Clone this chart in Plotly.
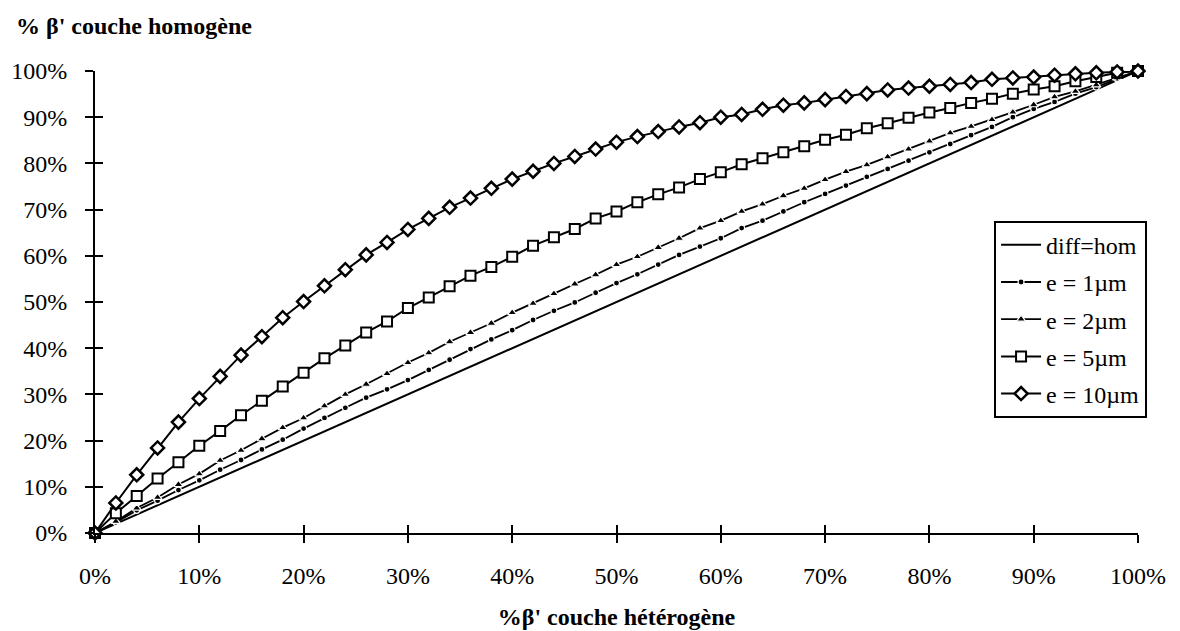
import plotly.graph_objects as go

FONT = "Liberation Serif, Times New Roman, serif"
BLACK = "#000000"

# x (% beta' couche hétérogène), pas de 2 %
x_pts = [0, 2, 4, 6, 8, 10, 12, 14, 16, 18, 20, 22, 24, 26, 28, 30, 32, 34, 36, 38,
         40, 42, 44, 46, 48, 50, 52, 54, 56, 58, 60, 62, 64, 66, 68, 70, 72, 74, 76, 78,
         80, 82, 84, 86, 88, 90, 92, 94, 96, 98, 100]

# diff=hom : droite y = x
x_hom = [0, 10, 20, 30, 40, 50, 60, 70, 80, 90, 100]
y_hom = [0, 10, 20, 30, 40, 50, 60, 70, 80, 90, 100]

y_e1 = [0, 2.3, 4.9, 7.0, 9.3, 11.4, 13.7, 15.8, 18.1, 20.2, 22.6, 24.9, 27.1, 29.3, 31.1,
        33.1, 35.3, 37.5, 39.8, 41.9, 43.9, 46.1, 48.1, 49.9, 52.0, 54.1, 56.0, 58.1, 60.2,
        62.0, 63.8, 66.0, 67.6, 69.6, 71.6, 73.4, 75.2, 77.1, 78.8, 80.6, 82.4, 84.2, 86.1,
        87.9, 90.0, 91.8, 93.3, 95.1, 96.5, 98.3, 100]

y_e2 = [0, 2.5, 5.4, 7.7, 10.5, 12.8, 15.7, 17.9, 20.4, 22.8, 24.9, 27.5, 30.0, 32.2, 34.5,
        36.9, 39.0, 41.4, 43.4, 45.4, 47.7, 49.7, 51.8, 53.9, 55.9, 58.1, 59.8, 61.8, 63.8,
        66.0, 67.6, 69.6, 71.2, 73.0, 74.6, 76.5, 78.2, 79.7, 81.4, 83.1, 84.8, 86.6, 88.0,
        89.5, 91.1, 92.7, 94.4, 95.6, 97.0, 98.5, 100]

y_e5 = [0, 4.3, 8.0, 11.8, 15.3, 18.9, 22.1, 25.5, 28.6, 31.7, 34.7, 37.8, 40.6, 43.4, 45.8,
        48.7, 51.0, 53.4, 55.7, 57.6, 59.8, 62.2, 64.0, 65.8, 68.1, 69.6, 71.6, 73.3, 74.8,
        76.6, 78.1, 79.8, 81.1, 82.4, 83.7, 85.1, 86.2, 87.6, 88.7, 89.9, 91.0, 92.0, 93.1,
        94.0, 95.1, 96.0, 96.7, 97.8, 98.7, 99.6, 100]

y_e10 = [0, 6.5, 12.6, 18.4, 24.0, 29.1, 33.9, 38.5, 42.5, 46.6, 50.1, 53.5, 57.0, 60.2, 62.9,
         65.7, 68.1, 70.5, 72.5, 74.6, 76.6, 78.3, 80.0, 81.5, 83.1, 84.6, 85.8, 86.9, 87.9,
         88.8, 90.0, 90.6, 91.7, 92.6, 93.1, 93.8, 94.5, 95.1, 95.9, 96.3, 96.7, 97.1, 97.5,
         98.2, 98.5, 98.7, 99.1, 99.4, 99.6, 99.8, 100]

tick_vals = [0, 10, 20, 30, 40, 50, 60, 70, 80, 90, 100]
tick_text = ["0%", "10%", "20%", "30%", "40%", "50%", "60%", "70%", "80%", "90%", "100%"]

fig = go.Figure()

fig.add_trace(go.Scatter(x=x_hom, y=y_hom, name="diff=hom", mode="lines",
                         line=dict(color=BLACK, width=2), legendgroup="a"))
fig.add_trace(go.Scatter(x=x_pts, y=y_e1, name="e = 1\u00b5m", mode="lines+markers",
                         line=dict(color=BLACK, width=1.8),
                         marker=dict(symbol="circle", size=6, color=BLACK,
                                     line=dict(color="white", width=1.2)),
                         legendgroup="b"))
fig.add_trace(go.Scatter(x=x_pts, y=y_e2, name="e = 2\u00b5m", mode="lines+markers",
                         line=dict(color=BLACK, width=1.8),
                         marker=dict(symbol="triangle-up", size=8, color=BLACK,
                                     line=dict(color="white", width=1.2)),
                         legendgroup="c"))
fig.add_trace(go.Scatter(x=x_pts, y=y_e5, name="e = 5\u00b5m", mode="lines+markers",
                         line=dict(color=BLACK, width=2),
                         marker=dict(symbol="square", size=10, color="white",
                                     line=dict(color=BLACK, width=2)),
                         legendgroup="d"))
fig.add_trace(go.Scatter(x=x_pts, y=y_e10, name="e = 10\u00b5m", mode="lines+markers",
                         line=dict(color=BLACK, width=2),
                         marker=dict(symbol="diamond", size=10, color="white",
                                     line=dict(color=BLACK, width=2.5)),
                         legendgroup="e"))
# trace invisible pour porter les axes superposés (graduations intérieures)
fig.add_trace(go.Scatter(x=x_hom, y=y_hom, xaxis="x2", yaxis="y2", mode="lines",
                         line=dict(width=0), opacity=0, showlegend=False, hoverinfo="skip"))

for tr in fig.data[:5]:
    tr.cliponaxis = False

axis_common = dict(range=[0, 100], tickmode="array", tickvals=tick_vals, automargin=False,
                   showgrid=False, zeroline=False, showline=True,
                   linecolor=BLACK, linewidth=2, ticklen=8, tickwidth=2, tickcolor=BLACK)

fig.update_layout(
    width=1180, height=631,
    paper_bgcolor="white", plot_bgcolor="white",
    font=dict(family=FONT, color=BLACK, size=24),
    margin=dict(l=87, r=50, t=63, b=106),
    title=dict(text="<b>% \u03b2' couche homog\u00e8ne</b>", x=8 / 1180, xanchor="left",
               xref="container", y=1 - 18 / 631, yanchor="middle", yref="container",
               font=dict(family=FONT, size=24, color=BLACK)),
    xaxis=dict(**axis_common, ticktext=tick_text, ticks="outside",
               ticklabelstandoff=12,
               title=dict(text="<b>%\u03b2' couche h\u00e9t\u00e9rog\u00e8ne</b>",
                          font=dict(family=FONT, size=24), standoff=20)),
    yaxis=dict(**axis_common, ticktext=tick_text, ticks="outside", ticklabelstandoff=13),
    xaxis2=dict(**axis_common, overlaying="x", side="bottom", anchor="y2",
                ticks="inside", showticklabels=False),
    yaxis2=dict(**axis_common, overlaying="y", side="left", anchor="x2",
                ticks="inside", showticklabels=False),
    showlegend=True,
    legend=dict(x=0.862, y=0.676, xanchor="left", yanchor="top",
                bgcolor="white", bordercolor=BLACK, borderwidth=2,
                font=dict(family=FONT, size=24, color=BLACK),
                traceorder="grouped", tracegroupgap=3, itemwidth=40),
)

fig.write_html("out.html")
